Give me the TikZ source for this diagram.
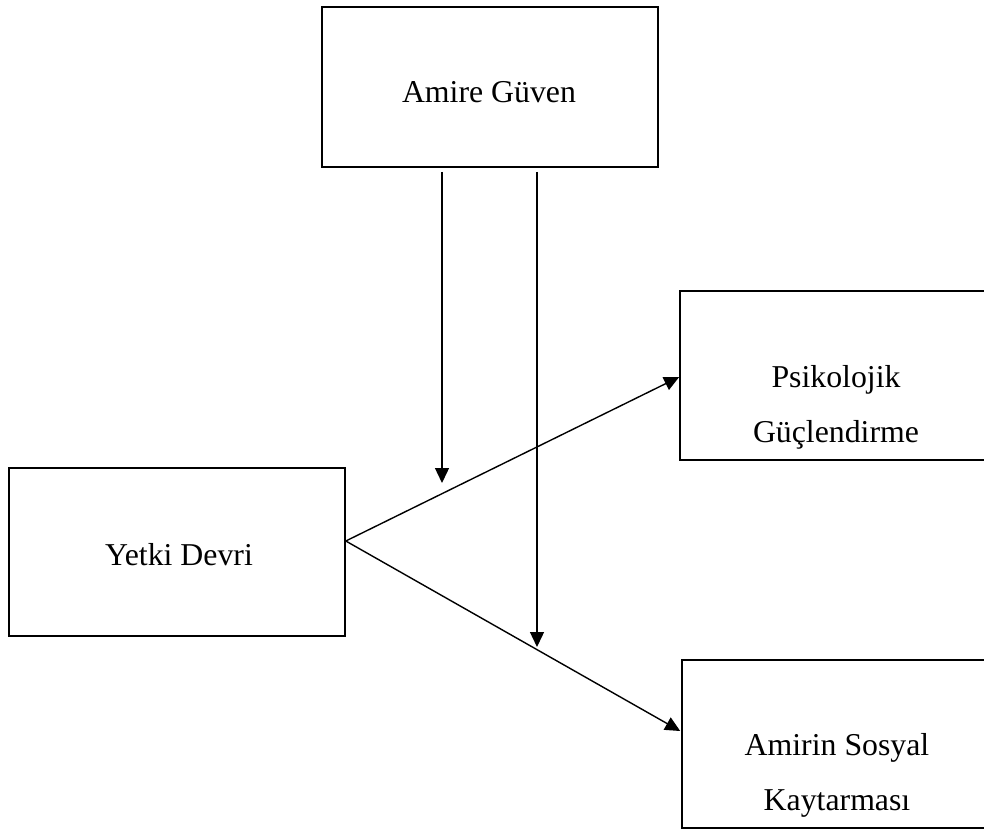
\documentclass[tikz,border=0pt]{standalone}
\usepackage{fontspec}
\setmainfont{Liberation Serif}
\usetikzlibrary{arrows.meta,calc}
\begin{document}
\begin{tikzpicture}[x=1pt,y=-1pt,
  box/.style={draw=black,line width=1.6pt,rectangle,inner sep=0pt,fill=none},
  lbl/.style={anchor=base,inner sep=0pt,font=\fontsize{31.8}{38}\selectfont},
  conn/.style={line width=1.4pt,-{Triangle[length=15pt,width=14pt]}}]
\useasboundingbox[fill=white] (0,0) rectangle (984,829);
% boxes
\node[box,minimum width=336pt,minimum height=160pt] (guven) at (490,87) {};
\node[box,minimum width=336pt,minimum height=168pt] (yetki) at (177,552) {};
\node[box,minimum width=312pt,minimum height=169pt] (psik) at (836,375.5) {};
\node[box,minimum width=309pt,minimum height=168pt] (amirin) at (836.5,744) {};
% texts
\node[lbl] (tg) at (489,103) {Amire Güven};
\node[lbl] (ty) at (179,565) {Yetki Devri};
\node[lbl] (tp1) at (836,387) {Psikolojik};
\node[lbl] (tp2) at (836,442) {Güçlendirme};
\node[lbl] (ta1) at (837,755) {Amirin Sosyal};
\node[lbl] (ta2) at (837,810) {Kaytarması};
% connector points
\coordinate (src) at ($(yetki.east)+(0,-11)$);
\coordinate (dp) at ($(psik.west)+(0,1.5)$);
\coordinate (da) at ($(amirin.west)+(-1,-13)$);
\coordinate (g1) at ($(guven.south)+(-48,4)$);
\coordinate (g2) at ($(guven.south)+(47,4)$);
\coordinate (t1) at (442,483);
\coordinate (t2) at (537,647);
% connectors
\draw[conn] (src) -- (dp);
\draw[conn] (src) -- (da);
\draw[conn] (g1) -- (t1);
\draw[conn] (g2) -- (t2);
\end{tikzpicture}
\end{document}
